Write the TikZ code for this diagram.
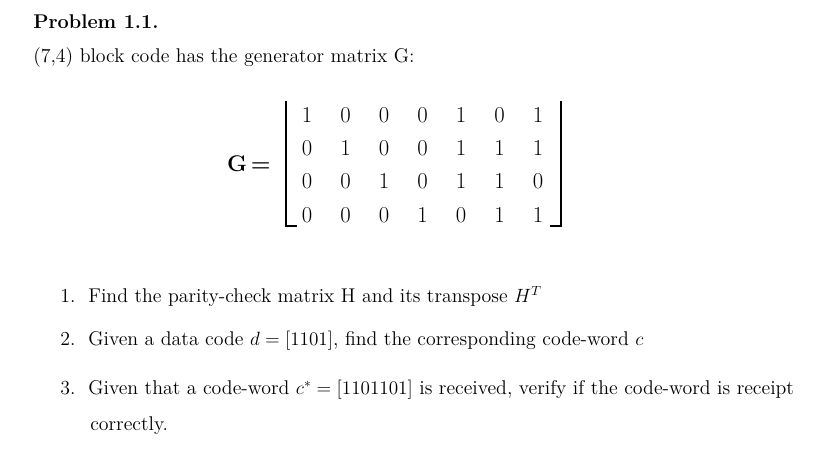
\documentclass[tikz,border=0pt]{standalone}
\usepackage{fontspec}
\begin{document}
\begin{tikzpicture}[x=0.75pt,y=-0.75pt,
  txt/.style={anchor=west,inner sep=0pt,font=\fontsize{14.9}{17}\selectfont},
  mx/.style={inner sep=0pt,font=\fontsize{17}{19}\selectfont},
  br/.style={line width=1pt}]
\useasboundingbox (0,0) rectangle (813,454);
\node[txt,font=\fontsize{14.9}{17}\selectfont\bfseries] (t) at (33,22) {Problem 1.1.};
\node[txt] (a) at (33,58) {(7,4) block code has the generator matrix G:};
\node[mx,font=\fontsize{17}{19}\selectfont\bfseries] (g) at (249,164) {G\,=};
\foreach \r/\y in {{1,0,0,0,1,0,1}/115,{0,1,0,0,1,1,1}/148,{0,0,1,0,1,1,0}/181,{0,0,0,1,0,1,1}/215}{
  \foreach \v [count=\c] in \r {
    \pgfmathsetmacro\xx{307+38.5*(\c-1)}
    \node[mx] (m\c-\y) at (\xx,\y) {\v};
  }}
\draw[br] (286,101) -- (286,226) -- (297,226);
\draw[br] (561,101) -- (561,226) -- (550,226);
\node[txt] (i1) at (60,296) {1.\ \ Find the parity-check matrix H and its transpose $H^T$};
\node[txt] (i2) at (60,341) {2.\ \ Given a data code $d=[1101]$, find the corresponding code-word $c$};
\node[txt] (i3) at (60,390) {3.\ \ Given that a code-word $c^*=[1101101]$ is received, verify if the code-word is receipt};
\node[txt] (i4) at (90,426) {correctly.};
\end{tikzpicture}
\end{document}
